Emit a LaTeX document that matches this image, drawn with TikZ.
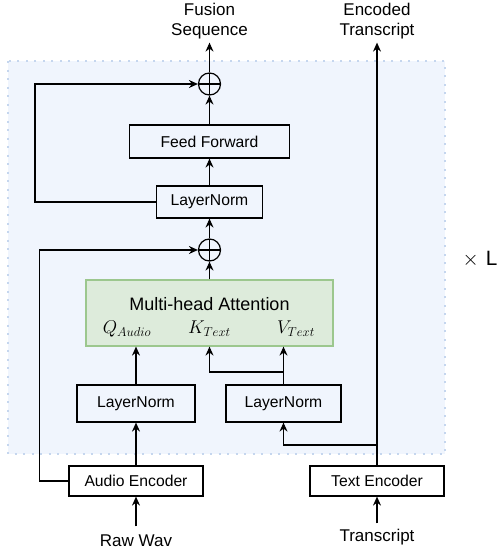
\documentclass[tikz,border=0pt]{standalone}
\usepackage{fontspec}
\setmainfont{Liberation Sans}
\usetikzlibrary{arrows.meta}
\definecolor{bgblue}{HTML}{F0F5FD}
\definecolor{dotblue}{HTML}{C5D6EE}
\definecolor{mhafill}{HTML}{DDEBDB}
\definecolor{mhaline}{HTML}{9CC78E}
\begin{document}
\begin{tikzpicture}[x=1pt,y=-1pt,
  box/.style={draw, line width=1.2pt, inner sep=0pt, font=\fontsize{15.7}{18}\selectfont},
  lbl/.style={align=center, font=\fontsize{17}{20}\selectfont, inner sep=0pt},
  arr/.style={line width=1.2pt, -{Stealth[length=9pt,width=8pt,inset=3pt]}},
  plus/.style={circle, draw, line width=1.2pt, minimum size=22pt, inner sep=0pt,
    path picture={\draw[line width=1.2pt] (path picture bounding box.north) -- (path picture bounding box.south)
      (path picture bounding box.west) -- (path picture bounding box.east);}},
  mtext/.style={inner sep=0pt, font=\fontsize{17.28}{21}\selectfont}
]
\useasboundingbox (0,0) rectangle (497,554);
\fill[bgblue] (8,61) rectangle (445,454);
\draw[dotblue, line width=2pt, dash pattern=on 2pt off 6.5pt] (8,61) rectangle (445,454);

% nodes
\node[plus] (p1) at (209.5,84) {};
\node[box, minimum width=160pt, minimum height=33pt] (ff) at (209.5,141.5) {Feed Forward};
\node[box, minimum width=106pt, minimum height=32pt] (ln3) at (209.5,202) {LayerNorm};
\node[plus] (p2) at (209.5,250) {};
\node[draw=mhaline, fill=mhafill, line width=1.2pt, minimum width=247pt, minimum height=66pt] (mha) at (209.5,313) {};
\node[inner sep=0pt, font=\fontsize{18}{21}\selectfont] (mhat) at (209.5,304) {Multi-head Attention};
\node[mtext] (q) at (127,329) {\scalebox{1.07}{$Q_{Audio}$}};
\node[mtext] (k) at (209.5,329) {\scalebox{1.07}{$K_{Text}$}};
\node[mtext] (v) at (296,329) {\scalebox{1.07}{$V_{Text}$}};
\node[box, minimum width=118pt, minimum height=37pt] (ln1) at (136,403.5) {LayerNorm};
\node[box, minimum width=115pt, minimum height=37pt] (ln2) at (283.5,403.5) {LayerNorm};
\node[box, fill=white, minimum width=134pt, minimum height=30pt] (ae) at (136,481) {Audio Encoder};
\node[box, fill=white, minimum width=134pt, minimum height=30pt] (te) at (377,481) {Text Encoder};
\node[lbl] (raw) at (136,540.5) {Raw Wav};
\node[lbl] (tr) at (377,537.5) {Transcript};
\node[lbl] (fs) at (209.5,21.5) {Fusion\\Sequence};
\node[lbl] (et) at (377,21.5) {Encoded\\Transcript};
\node[inner sep=0pt, font=\fontsize{20.74}{24}\selectfont, anchor=east] (xl) at (497.5,259) {$\times$\hspace{7pt}L};

\coordinate (br) at (377,445);
\coordinate (kvj) at (283.5,372);

% connectors
\draw[arr, shorten >=3pt] (p1.north) -- (fs.south);
\draw[arr] (ff.north) -- (p1.south);
\draw[arr] (ln3.north) -- (ff.south);
\draw[arr] (p2.north) -- (ln3.south);
\draw[arr] (mha.north) -- (p2.south);
\draw[arr] (ln1.north) -- (ln1.north |- mha.south);
\draw[arr] (ln2.north) -- (ln2.north |- mha.south);
\draw[arr] (kvj) -| (mha.south);
\draw[arr] (ae.north) -- (ln1.south);
\draw[arr] (br) -| (ln2.south);
\draw[arr, shorten >=3pt] (te.north) -- (et.south);
\draw[arr] (ln3.west) -- ++(-121,0) |- (p1.west);
\draw[arr] (ae.west) -- ++(-29,0) |- (p2.west);
\draw[arr, shorten <=8pt] (raw.north) -- (ae.south);
\draw[arr, shorten <=6pt] (tr.north) -- (te.south);
\end{tikzpicture}
\end{document}
